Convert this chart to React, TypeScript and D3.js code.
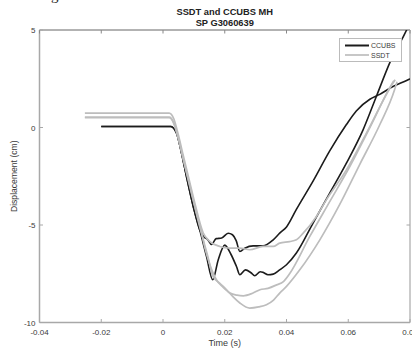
import React from "react";
import * as d3 from "d3";

// CCUBS runs (black)
const ccubs1T = [-0.020, 0.0025, 0.0032, 0.0044, 0.006, 0.0076, 0.0098, 0.0119, 0.0141, 0.0161, 0.0179, 0.0200, 0.0220, 0.0238, 0.0249, 0.0267, 0.0285, 0.0297, 0.0315, 0.0324, 0.0340, 0.0357, 0.0378, 0.0400, 0.0432, 0.0486, 0.0540, 0.0594, 0.0648, 0.0691, 0.0734, 0.0794, 0.0805];
const ccubs1V = [0.05, 0.05, 0.0, -0.29, -1.31, -2.51, -4.05, -5.25, -6.62, -7.81, -6.78, -6.03, -6.5, -7.13, -7.55, -7.3, -7.45, -7.6, -7.4, -7.43, -7.55, -7.52, -7.3, -7.04, -6.44, -4.9, -3.37, -1.83, -0.12, 1.59, 3.3, 5.18, 5.6];

const ccubs2T = [-0.020, 0.0025, 0.0032, 0.0044, 0.006, 0.0076, 0.0098, 0.0119, 0.0132, 0.0145, 0.0157, 0.0172, 0.0190, 0.0211, 0.0225, 0.0237, 0.0249, 0.0265, 0.0292, 0.0324, 0.0357, 0.0378, 0.0400, 0.0432, 0.0486, 0.0540, 0.0594, 0.0626, 0.0670, 0.0702, 0.0745, 0.0794, 0.0800];
const ccubs2V = [0.05, 0.05, 0.0, -0.29, -1.31, -2.51, -4.05, -5.25, -5.6, -5.75, -6.0, -5.7, -5.67, -5.42, -5.5, -5.8, -6.36, -6.19, -6.07, -6.07, -5.76, -5.42, -5.1, -4.2, -2.75, -1.2, 0.15, 0.85, 1.45, 1.7, 2.1, 2.45, 2.5];

// SSDT runs (gray)
const ssdt1T = [-0.0253, 0.0020, 0.0035, 0.0050, 0.0065, 0.0085, 0.0105, 0.0130, 0.0152, 0.0184, 0.0217, 0.0249, 0.0281, 0.0324, 0.0357, 0.0378, 0.0410, 0.0432, 0.0454, 0.0497, 0.0529, 0.0594, 0.0659, 0.0745, 0.0752];
const ssdt1V = [0.74, 0.74, 0.45, -0.4, -1.4, -2.7, -4.0, -5.4, -5.85, -6.1, -6.19, -6.19, -6.27, -6.1, -6.1, -5.93, -5.85, -5.76, -5.42, -4.56, -3.71, -2.17, -0.29, 2.28, 2.45];

const ssdt2T = [-0.0253, 0.0020, 0.0035, 0.0050, 0.0065, 0.0085, 0.0105, 0.0125, 0.0136, 0.0152, 0.0173, 0.0195, 0.0217, 0.0240, 0.0260, 0.0290, 0.0314, 0.0340, 0.0368, 0.0390, 0.0410, 0.0475, 0.0540, 0.0605, 0.0670, 0.0740, 0.0748];
const ssdt2V = [0.53, 0.53, 0.25, -0.55, -1.55, -2.85, -4.15, -5.4, -6.2, -7.04, -7.81, -8.2, -8.49, -8.6, -8.63, -8.5, -8.32, -8.25, -8.07, -7.9, -7.5, -5.6, -3.8, -2.0, 0.0, 2.2, 2.4];

const ssdt3T = [-0.0253, 0.0020, 0.0035, 0.0050, 0.0065, 0.0085, 0.0105, 0.0125, 0.0145, 0.0162, 0.0185, 0.0206, 0.0228, 0.0249, 0.0281, 0.0310, 0.0335, 0.0358, 0.0378, 0.0400, 0.0443, 0.0508, 0.0572, 0.0637, 0.0702, 0.0750, 0.0758];
const ssdt3V = [0.50, 0.50, 0.2, -0.6, -1.6, -2.9, -4.2, -5.45, -6.6, -7.64, -8.0, -8.32, -8.7, -9.0, -9.26, -9.2, -9.09, -8.85, -8.49, -8.15, -7.3, -5.76, -3.96, -1.9, 0.14, 1.93, 2.35];

const xTicks = [-0.04, -0.02, 0, 0.02, 0.04, 0.06, 0.08];
const xTickLabels = ["-0.04", "-0.02", "0", "0.02", "0.04", "0.06", "0.08"];
const yTicks = [-10, -5, 0, 5];
const legendNames = ["CCUBS", "SSDT"];

const BLACK = "#1c1c1c";
const GRAY = "#bdbdbd";

export default function App() {
  const W = 412, H = 349;
  const left = 39.5, right = 410, top = 30, bottom = 322.5;

  const x = d3.scaleLinear().domain([-0.04, 0.08]).range([left, right]);
  const y = d3.scaleLinear().domain([-10, 5]).range([bottom, top]);

  const line = d3.line<[number, number]>()
    .x(d => x(d[0]))
    .y(d => y(d[1]))
    .curve(d3.curveMonotoneX);

  const zip = (t: number[], v: number[]) => t.map((tt, i) => [tt, v[i]] as [number, number]);

  const blacks = [zip(ccubs1T, ccubs1V), zip(ccubs2T, ccubs2V)];
  const grays = [zip(ssdt1T, ssdt1V), zip(ssdt2T, ssdt2V), zip(ssdt3T, ssdt3V)];

  const font = "'Liberation Sans', Arial, sans-serif";
  const axisCol = "#a8a8a8";
  const txt = "#3a3a3a";

  return (
    <svg width={W} height={H} style={{ position: "absolute", left: 0, top: 0, background: "#fff" }}>
      <defs>
        <clipPath id="plotclip">
          <rect x={left} y={top} width={right - left} height={bottom - top} />
        </clipPath>
      </defs>

      {/* bit of document text cut off above the figure */}
      <text x={51} y={0} fontFamily="'Liberation Serif', serif" fontSize={15} fill="#222">g</text>

      {/* title */}
      <text x={(left + right) / 2} y={14.5} textAnchor="middle" fontFamily={font} fontSize={9.3} fontWeight="bold" fill="#222">SSDT and CCUBS MH</text>
      <text x={(left + right) / 2} y={25.5} textAnchor="middle" fontFamily={font} fontSize={9.3} fontWeight="bold" fill="#222">SP G3060639</text>

      {/* frame */}
      <line x1={left} x2={right} y1={top} y2={top} stroke="#666" strokeWidth={1} />
      <line x1={left} x2={left} y1={top} y2={bottom} stroke={axisCol} strokeWidth={1.5} />
      <line x1={left} x2={right} y1={bottom} y2={bottom} stroke={axisCol} strokeWidth={1.5} />
      <line x1={right} x2={right} y1={top} y2={bottom} stroke={axisCol} strokeWidth={1.2} />

      {/* ticks */}
      {xTicks.map((t, i) => (
        <g key={"xt" + i}>
          <line x1={x(t)} x2={x(t)} y1={bottom} y2={bottom - 3.5} stroke={axisCol} />
          <line x1={x(t)} x2={x(t)} y1={top} y2={top + 3.5} stroke="#888" />
          <text x={x(t)} y={334.5} textAnchor="middle" fontFamily={font} fontSize={8} fill={txt}>{xTickLabels[i]}</text>
        </g>
      ))}
      {yTicks.map((v, i) => (
        <g key={"yt" + i}>
          <line x1={left} x2={left + 3.5} y1={y(v)} y2={y(v)} stroke={axisCol} />
          <line x1={right} x2={right - 3.5} y1={y(v)} y2={y(v)} stroke={axisCol} />
          <text x={35.5} y={y(v) + 3} textAnchor="end" fontFamily={font} fontSize={8} fill={txt}>{v}</text>
        </g>
      ))}

      {/* axis labels */}
      <text x={(left + right) / 2} y={346} textAnchor="middle" fontFamily={font} fontSize={9} fill={txt}>Time (s)</text>
      <text transform={`translate(16.5,${(top + bottom) / 2}) rotate(-90)`} textAnchor="middle" fontFamily={font} fontSize={8.6} fill={txt}>Displacement (cm)</text>

      {/* data */}
      <g clipPath="url(#plotclip)" fill="none">
        {blacks.map((d, i) => (
          <path key={"b" + i} d={line(d) || ""} stroke={BLACK} strokeWidth={1.6} strokeLinejoin="round" />
        ))}
        {grays.map((d, i) => (
          <path key={"g" + i} d={line(d) || ""} stroke={GRAY} strokeWidth={1.7} strokeLinejoin="round" />
        ))}
      </g>

      {/* legend */}
      <rect x={339.5} y={38.5} width={62} height={23} fill="#fff" stroke="#bbb" strokeWidth={1} />
      <line x1={345} x2={369} y1={45.5} y2={45.5} stroke={BLACK} strokeWidth={2} />
      <line x1={345} x2={369} y1={55} y2={55} stroke={GRAY} strokeWidth={1.7} />
      <text x={371} y={48.3} fontFamily={font} fontSize={7} fill={txt}>{legendNames[0]}</text>
      <text x={371} y={57.8} fontFamily={font} fontSize={7} fill={txt}>{legendNames[1]}</text>
    </svg>
  );
}
